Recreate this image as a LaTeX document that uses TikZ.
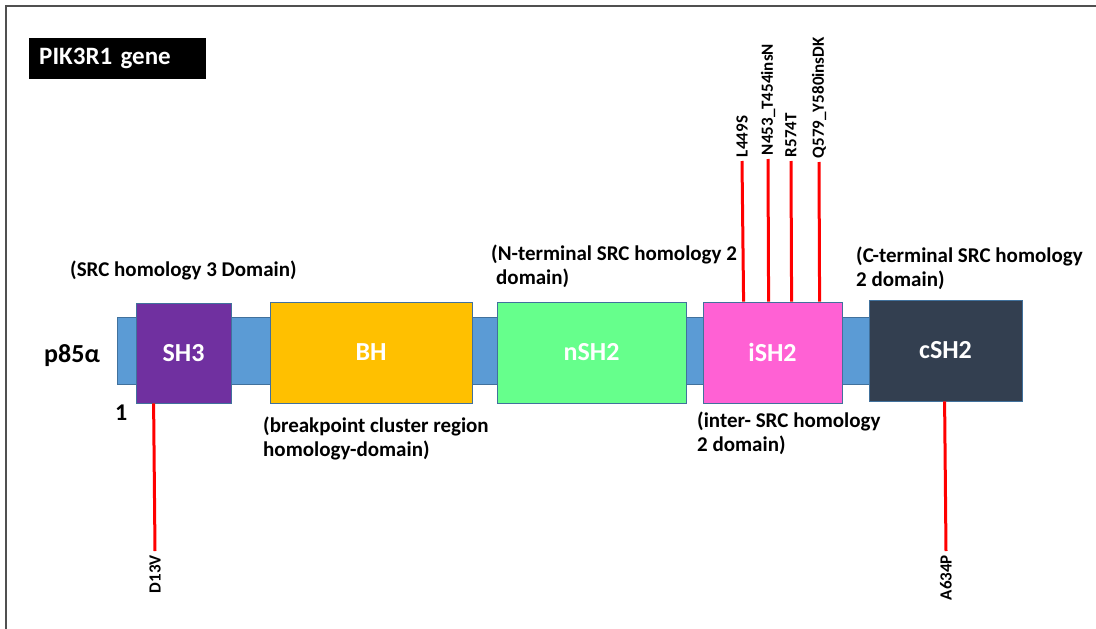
\documentclass[tikz,border=0pt]{standalone}
\usepackage{fontspec}
\setmainfont{Carlito}
\usetikzlibrary{calc}
\definecolor{barblue}{RGB}{91,155,213}
\definecolor{edgeblue}{RGB}{65,113,156}
\definecolor{sh3c}{RGB}{112,48,160}
\definecolor{bhc}{RGB}{255,192,0}
\definecolor{nsh2c}{RGB}{102,255,140}
\definecolor{ish2c}{RGB}{255,97,212}
\definecolor{csh2c}{RGB}{51,63,80}
\definecolor{mutred}{RGB}{255,0,0}
\definecolor{framegray}{RGB}{80,80,80}
\begin{document}
\begin{tikzpicture}[x=1pt,y=-1pt,
  dombox/.style={draw=edgeblue, line width=0.8pt, inner sep=0pt, text=white,
    font=\fontsize{26}{30}\selectfont\bfseries},
  note/.style={align=left, inner sep=0pt, anchor=base west,
    font=\fontsize{21}{24}\selectfont\bfseries},
  mutline/.style={draw=mutred, line width=3pt},
  mutlabel/.style={rotate=90, inner sep=1pt, outer sep=3pt,
    font=\fontsize{17}{19}\selectfont\bfseries},
  bigtxt/.style={inner sep=0pt, anchor=base west, font=\fontsize{26}{30}\selectfont\bfseries}]
\useasboundingbox[fill=white] (0,0) rectangle (1096,629);
% frame
\coordinate (fr) at (1096,6);
\coordinate (fc) at (6,6);
\coordinate (fb) at (6,629);
\draw[framegray, line width=1.3pt] (fr) -- (fc) -- (fb);
% title
\node[fill=black, text=white, anchor=west, minimum height=41pt, text width=157pt,
  inner xsep=10pt, inner ysep=0pt, align=left, font=\fontsize{25}{28}\selectfont\bfseries]
  (title) at (29,58.5) {PIK3R1 gene};
% backbone
\node[fill=barblue, draw=edgeblue, line width=0.8pt, minimum width=883pt, minimum height=67pt,
  inner sep=0pt, anchor=west] (bar) at (117,351) {};
% domains
\node[dombox, fill=sh3c, minimum width=95pt, minimum height=100pt] (sh3) at (183.5,353) {SH3};
\node[dombox, fill=bhc, minimum width=202pt, minimum height=101pt] (bh) at (371,352.5) {BH};
\node[dombox, fill=nsh2c, minimum width=189pt, minimum height=101pt] (nsh2) at (591.5,352.5) {nSH2};
\node[dombox, fill=ish2c, minimum width=139pt, minimum height=101pt] (ish2) at (772.5,352.5) {iSH2};
\node[dombox, fill=csh2c, minimum width=153pt, minimum height=101pt] (csh2) at (945.5,350.5) {cSH2};
% side labels
\node[bigtxt] (p85) at (44,362) {p85α};
\node[bigtxt, font=\fontsize{24}{28}\selectfont\bfseries] (one) at (115,420) {1};
% notes (anchor = baseline of last line)
\node[note] (nsh3) at (70,276) {(SRC homology 3 Domain)};
\node[note] (nbh) at (263,456) {(breakpoint cluster region\\homology-domain)};
\node[note] (nnsh2) at (491,284) {(N-terminal SRC homology 2\\\hspace*{5pt}domain)};
\node[note] (nish2) at (697,451) {(inter- SRC homology\\2 domain)};
\node[note] (ncsh2) at (856,286) {(C-terminal SRC homology\\2 domain)};
% top mutations
\node[mutlabel, anchor=west] (m1) at (742,161) {L449S};
\node[mutlabel, anchor=west] (m2) at (768,159) {N453\_T454insN};
\node[mutlabel, anchor=west] (m3) at (791,161) {R574T};
\node[mutlabel, anchor=west] (m4) at (819,162) {Q579\_Y580insDK};
\coordinate (b1) at ($(ish2.north west)+(41,0)$);
\coordinate (b2) at ($(ish2.north west)+(66,0)$);
\coordinate (b3) at ($(ish2.north west)+(89,0)$);
\coordinate (b4) at ($(ish2.north west)+(117,0)$);
\draw[mutline] (b1) -- (m1.west);
\draw[mutline] (b2) -- (m2.west);
\draw[mutline] (b3) -- (m3.west);
\draw[mutline] (b4) -- (m4.west);
% bottom mutations
\node[mutlabel, anchor=east] (m5) at (155,551) {D13V};
\node[mutlabel, anchor=east] (m6) at (946,551) {A634P};
\coordinate (b5) at ($(sh3.south west)+(18,0)$);
\coordinate (b6) at ($(csh2.south west)+(76,0)$);
\draw[mutline] (b5) -- (m5.east);
\draw[mutline] (b6) -- (m6.east);
\end{tikzpicture}
\end{document}
